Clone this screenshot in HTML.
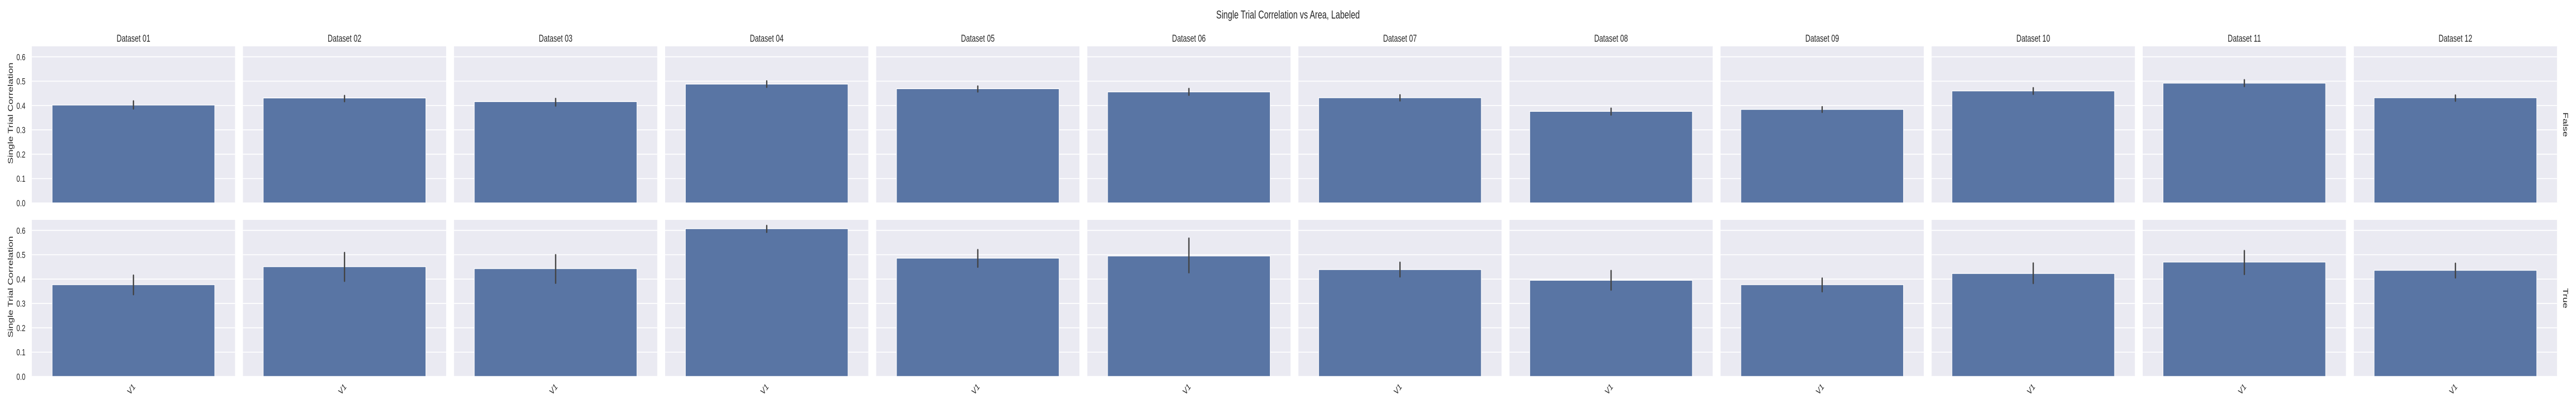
<!DOCTYPE html>
<html><head><meta charset="utf-8"><style>
html,body{margin:0;padding:0;background:#fff;width:100%;height:100%;overflow:hidden;}
svg{display:block;font-family:"Liberation Sans",Arial,sans-serif;width:100vw;height:100vh;}
</style></head><body>
<svg id="chart" viewBox="0 0 7200 800" preserveAspectRatio="none" xmlns="http://www.w3.org/2000/svg">
<text x="3600" y="36" text-anchor="middle" font-size="22.5" fill="#262626">Single Trial Correlation vs Area, Labeled</text>
<g id="panels"></g>
</svg>
<script>
const datasets = ["Dataset 01","Dataset 02","Dataset 03","Dataset 04","Dataset 05","Dataset 06","Dataset 07","Dataset 08","Dataset 09","Dataset 10","Dataset 11","Dataset 12"];
const rowLabels = ["False","True"];
const xCategory = "V1";
const yTicks = [0.0,0.1,0.2,0.3,0.4,0.5,0.6];
const valuesFalse = [0.402,0.431,0.416,0.488,0.469,0.456,0.432,0.376,0.384,0.460,0.492,0.432];
const loFalse = [0.387,0.417,0.399,0.476,0.457,0.443,0.420,0.362,0.373,0.447,0.479,0.419];
const hiFalse = [0.418,0.440,0.428,0.500,0.479,0.469,0.443,0.388,0.394,0.472,0.505,0.442];
const valuesTrue = [0.377,0.451,0.443,0.607,0.486,0.495,0.439,0.395,0.377,0.423,0.470,0.436];
const loTrue = [0.337,0.392,0.384,0.593,0.450,0.427,0.410,0.356,0.349,0.383,0.420,0.406];
const hiTrue = [0.415,0.508,0.499,0.619,0.520,0.567,0.468,0.434,0.403,0.465,0.516,0.464];

const NS = "http://www.w3.org/2000/svg";
const g = document.getElementById("panels");
const left0 = 89, period = 590, pw = 568, ph = 304;
const rowTops = [90, 427];
const yMax = 0.643;
function mk(tag, attrs, parent){ const e=document.createElementNS(NS,tag); for(const k in attrs) e.setAttribute(k,attrs[k]); (parent||g).appendChild(e); return e; }
function yScale(v, r){ return rowTops[r] + ph - v/yMax*ph; }
function xLeft(c){ return left0 + c*period; }

const rows = [[valuesFalse,loFalse,hiFalse],[valuesTrue,loTrue,hiTrue]];
for (let r=0;r<2;r++){
  for (let c=0;c<datasets.length;c++){
    const x0 = xLeft(c);
    const bg = mk("rect",{x:x0,y:rowTops[r],width:pw,height:ph,fill:"#EAEAF2"});
    
    
    for (const t of yTicks){
      const gl = mk("line",{x1:x0,x2:x0+pw,y1:yScale(t,r),y2:yScale(t,r),stroke:"#fff","stroke-width":1.8});
      
      
    }
    const [vals,lo,hi] = rows[r];
    const bw = pw*0.8, bx = x0 + pw*0.1;
    const bar = mk("rect",{x:bx,y:yScale(vals[c],r),width:bw,height:yScale(0,r)-yScale(vals[c],r),fill:"#5975A4",stroke:"#fff","stroke-width":1.5});
    
    
    const cx = x0 + pw/2;
    const eb = mk("line",{x1:cx,x2:cx,y1:yScale(lo[c],r),y2:yScale(hi[c],r),stroke:"#424242","stroke-width":3.6,"stroke-linecap":"round"});
    
    
    if (r===0){
      const tt = mk("text",{x:cx,y:81,"text-anchor":"middle","font-size":19.5,fill:"#262626"});
      tt.textContent = datasets[c];
      
      
    }
    if (r===1){
      const xt = mk("text",{x:0,y:0,"text-anchor":"end","font-size":18,fill:"#262626",transform:"translate("+(cx+6)+",752) rotate(-45)"});
      xt.textContent = xCategory;
      
      
    }
    if (c===0){
      for (const t of yTicks){
        const yt = mk("text",{x:71,y:yScale(t,r)+6.5,"text-anchor":"end","font-size":18,fill:"#262626"});
        yt.textContent = t.toFixed(1);
        
        
      }
      const yl = mk("text",{x:0,y:0,"text-anchor":"middle","font-size":19.5,fill:"#262626",transform:"translate(36,"+(rowTops[r]+ph/2-22)+") rotate(-90)"});
      yl.textContent = "Single Trial Correlation";
      
      
    }
  }
  const rl = mk("text",{x:0,y:0,"text-anchor":"middle","font-size":19.5,fill:"#262626",transform:"translate(7164,"+(rowTops[r]+ph/2)+") rotate(90)"});
  rl.textContent = rowLabels[r];
  
  
}
</script>
</body></html>
